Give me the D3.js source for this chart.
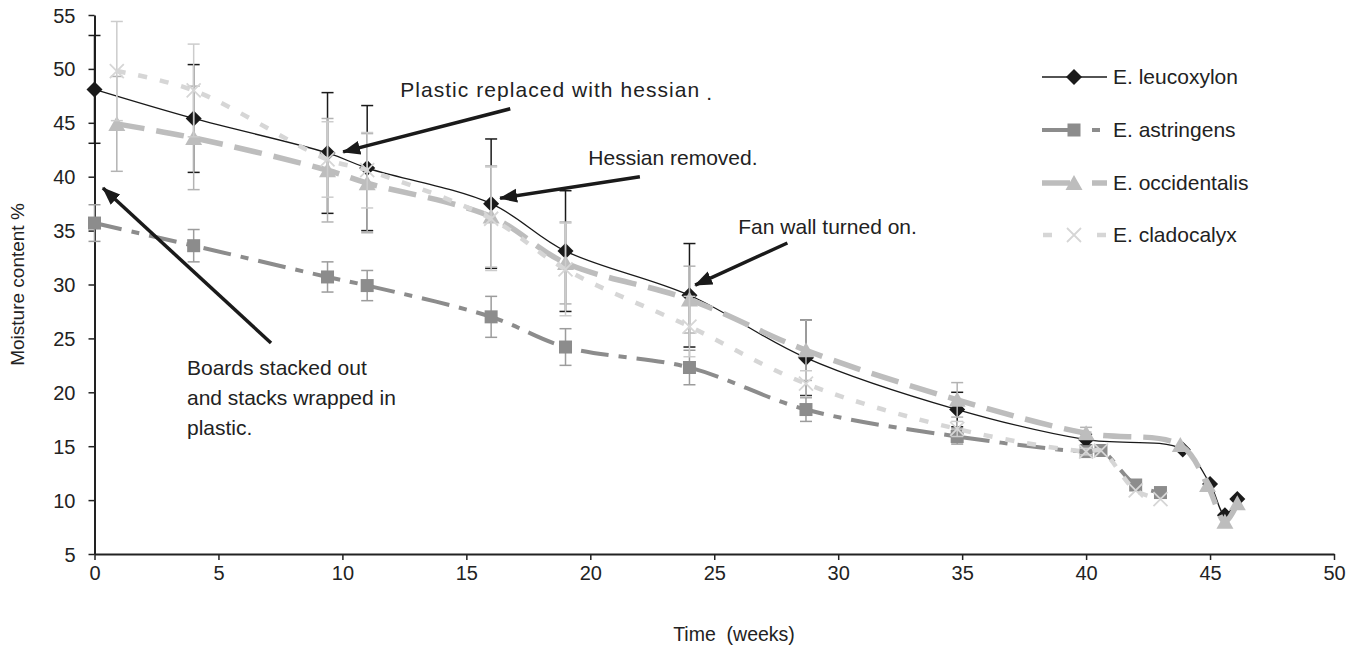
<!DOCTYPE html>
<html>
<head>
<meta charset="utf-8">
<script src="https://cdn.jsdelivr.net/npm/d3@7"></script>
<style>
  body { margin: 0; background: #fff; }
  svg { font-family: "Liberation Sans", Arial, sans-serif; }
</style>
</head>
<body>
<svg width="1361" height="648"></svg>
<script>
// week of measurement, moisture content (%) and error (+/-) per species
const seriesNames = ["E. leucoxylon", "E. astringens", "E. occidentalis", "E. cladocalyx"];

const leucoxylonWeeks = [0, 4, 9.4, 11, 16, 19, 24, 28.7, 34.8, 40, 43.9, 45, 45.6, 46.1];
const leucoxylonMC    = [48.1, 45.4, 42.2, 40.8, 37.5, 33.1, 29.0, 23.2, 18.4, 15.6, 14.7, 11.5, 8.6, 10.1];
const leucoxylonErr   = [5.0, 5.0, 5.6, 5.8, 6.0, 5.6, 4.8, 3.5, 1.6, 0.5, 0, 0, 0, 0];

const astringensWeeks = [0, 4, 9.4, 11, 16, 19, 24, 28.7, 34.8, 40, 40.6, 42, 43];
const astringensMC    = [35.7, 33.6, 30.7, 29.9, 27.0, 24.2, 22.3, 18.4, 15.9, 14.5, 14.6, 11.4, 10.7];
const astringensErr   = [1.7, 1.5, 1.4, 1.4, 1.9, 1.7, 1.6, 1.1, 0.7, 0.4, 0, 0, 0];

const occidentalisWeeks = [0.9, 4, 9.4, 11, 16, 19, 24, 28.7, 34.8, 40, 43.8, 44.9, 45.6, 46.1];
const occidentalisMC    = [44.9, 43.6, 40.6, 39.4, 36.3, 32.0, 28.6, 23.9, 19.3, 16.2, 15.1, 11.4, 8.0, 9.7];
const occidentalisErr   = [4.4, 4.8, 4.8, 4.6, 4.7, 3.8, 3.1, 2.8, 1.6, 0.55, 0, 0, 0, 0];

const cladocalyxWeeks = [0.9, 4, 9.4, 11, 16, 19, 24, 28.7, 34.8, 40, 40.6, 42, 43];
const cladocalyxMC    = [49.8, 48.0, 41.6, 40.6, 36.1, 31.4, 26.1, 20.8, 16.6, 14.5, 14.6, 10.9, 10.1];
const cladocalyxErr   = [4.6, 4.3, 3.5, 3.5, 4.8, 4.3, 2.8, 1.2, 0.7, 0.3, 0, 0, 0];

const xTicks = [0, 5, 10, 15, 20, 25, 30, 35, 40, 45, 50];
const yTicks = [5, 10, 15, 20, 25, 30, 35, 40, 45, 50, 55];

// annotation arrows in data units: text lines, text anchor, arrow start, arrow tip
const notes = [
  {lines: ["Plastic replaced with hessian"], at: [12.33, 47.4], from: [16.77, 46.3], to: [10.03, 42.3], len: 299},
  {lines: ["Hessian removed."], at: [19.92, 41.1], from: [22.0, 40.0], to: [16.36, 38.0]},
  {lines: ["Fan wall turned on."], at: [25.97, 34.7], from: [27.95, 33.85], to: [24.23, 29.95]},
  {lines: ["Boards stacked out", "and stacks wrapped in", "plastic."], at: [3.73, 21.6], from: [7.12, 24.57], to: [0.34, 38.95]}
];

const margin = {top: 15, right: 27, bottom: 94, left: 94.5};
const width = 1361, height = 648;

const svg = d3.select("svg");

const x = d3.scaleLinear().domain([0, 50]).range([margin.left, width - margin.right]);
const y = d3.scaleLinear().domain([5, 55]).range([height - margin.bottom, margin.top]);

const series = [
  {name: seriesNames[0], weeks: leucoxylonWeeks, mc: leucoxylonMC, err: leucoxylonErr,
   color: "#1a1a1a", errColor: "#1a1a1a", width: 1.3, dash: null, marker: "diamond"},
  {name: seriesNames[1], weeks: astringensWeeks, mc: astringensMC, err: astringensErr,
   color: "#8c8c8c", errColor: "#9c9c9c", width: 4, dash: "28,10,8,10", marker: "square"},
  {name: seriesNames[2], weeks: occidentalisWeeks, mc: occidentalisMC, err: occidentalisErr,
   color: "#bdbdbd", errColor: "#b3b3b3", width: 5.5, dash: "28,12", marker: "triangle"},
  {name: seriesNames[3], weeks: cladocalyxWeeks, mc: cladocalyxMC, err: cladocalyxErr,
   color: "#d6d6d6", errColor: "#cccccc", width: 4.5, dash: "9,13", marker: "cross"}
];
series.forEach(s => { s.points = s.weeks.map((w, i) => ({w: w, v: s.mc[i], e: s.err[i]})); });

// axes
const xAxis = d3.axisBottom(x).tickValues(xTicks).tickSize(6).tickSizeOuter(0);
const yAxis = d3.axisLeft(y).tickValues(yTicks).tickSize(6).tickSizeOuter(0);

const gx = svg.append("g").attr("transform", `translate(0,${y(5)})`).call(xAxis);
const gy = svg.append("g").attr("transform", `translate(${x(0)},0)`).call(yAxis);
[gx, gy].forEach(g => {
  g.select(".domain").attr("stroke", "#222").attr("stroke-width", 2);
  g.selectAll(".tick line").attr("stroke", "#222").attr("stroke-width", 1.5);
  g.selectAll(".tick text").attr("fill", "#222").attr("font-size", 20)
    .attr("font-family", "Liberation Sans, Arial, sans-serif");
});
gx.selectAll(".tick text").attr("dy", "0.5em").attr("y", 16);
gy.selectAll(".tick text").attr("x", -19).attr("dy", "0.35em");

svg.append("text")
  .attr("transform", `translate(24,${(y(5) + y(55)) / 2}) rotate(-90)`)
  .attr("text-anchor", "middle")
  .attr("font-size", 19).attr("fill", "#222")
  .text("Moisture content %");

svg.append("text")
  .attr("x", 734).attr("y", 641)
  .attr("text-anchor", "middle")
  .attr("font-size", 19.5).attr("fill", "#222")
  .attr("xml:space", "preserve")
  .text("Time  (weeks)");

// marker shapes
function drawMarker(g, type, color) {
  if (type === "diamond") {
    g.append("path").attr("d", "M0,-8 L8,0 L0,8 L-8,0 Z").attr("fill", color);
  } else if (type === "square") {
    g.append("rect").attr("x", -6.5).attr("y", -6.5).attr("width", 13).attr("height", 13).attr("fill", color);
  } else if (type === "triangle") {
    g.append("path").attr("d", "M0,-8 L8.5,7 L-8.5,7 Z").attr("fill", color);
  } else {
    g.append("path").attr("d", "M-7,-7 L7,7 M-7,7 L7,-7").attr("stroke", color).attr("stroke-width", 1.8);
  }
}

const line = d3.line().x(d => x(d.w)).y(d => y(d.v)).curve(d3.curveCatmullRom.alpha(0.5));

series.forEach(s => {
  const g = svg.append("g");
  // error bars
  const eb = g.selectAll("g.eb").data(s.points.filter(d => d.e > 0)).join("g");
  eb.append("line")
    .attr("x1", d => x(d.w)).attr("x2", d => x(d.w))
    .attr("y1", d => y(d.v + d.e)).attr("y2", d => y(d.v - d.e))
    .attr("stroke", s.errColor).attr("stroke-width", 1.5);
  [1, -1].forEach(sign => {
    eb.append("line")
      .attr("x1", d => x(d.w) - 6).attr("x2", d => x(d.w) + 6)
      .attr("y1", d => y(d.v + sign * d.e)).attr("y2", d => y(d.v + sign * d.e))
      .attr("stroke", s.errColor).attr("stroke-width", 1.5);
  });
  g.append("path").datum(s.points).attr("d", line)
    .attr("fill", "none").attr("stroke", s.color).attr("stroke-width", s.width)
    .attr("stroke-dasharray", s.dash);
  g.selectAll("g.m").data(s.points).join("g")
    .attr("transform", d => `translate(${x(d.w)},${y(d.v)})`)
    .each(function () { drawMarker(d3.select(this), s.marker, s.color); });
});

// legend
const legend = svg.append("g");
series.forEach((s, i) => {
  const ly = [77, 130, 183, 235][i];
  const lg = legend.append("g").attr("transform", `translate(1042,${ly})`);
  if (s.dash === null) {
    lg.append("line").attr("x1", 0).attr("x2", 65).attr("stroke", s.color).attr("stroke-width", s.width);
  } else if (s.marker === "square") {
    lg.append("line").attr("x1", 0).attr("x2", 28).attr("stroke", s.color).attr("stroke-width", s.width);
    lg.append("line").attr("x1", 50).attr("x2", 58).attr("stroke", s.color).attr("stroke-width", s.width);
  } else if (s.marker === "triangle") {
    lg.append("line").attr("x1", 0).attr("x2", 28).attr("stroke", s.color).attr("stroke-width", s.width);
    lg.append("line").attr("x1", 50).attr("x2", 65).attr("stroke", s.color).attr("stroke-width", s.width);
  } else {
    lg.append("line").attr("x1", 1).attr("x2", 10).attr("stroke", s.color).attr("stroke-width", s.width);
    lg.append("line").attr("x1", 55).attr("x2", 64).attr("stroke", s.color).attr("stroke-width", s.width);
  }
  const mg = lg.append("g").attr("transform", "translate(32,0)");
  drawMarker(mg, s.marker, s.color);
  lg.append("text").attr("x", 71).attr("dy", "0.35em").attr("font-size", 21).attr("fill", "#222").text(s.name);
});

// annotations
svg.append("defs").append("marker")
  .attr("id", "head").attr("markerUnits", "userSpaceOnUse")
  .attr("markerWidth", 20).attr("markerHeight", 16)
  .attr("refX", 17).attr("refY", 7).attr("orient", "auto")
  .append("path").attr("d", "M0,0 L18,7 L0,14 Z").attr("fill", "#1a1a1a");

notes.forEach(n => {
  const t = svg.append("text").attr("font-size", 21).attr("fill", "#222");
  n.lines.forEach((l, i) => {
    const ts = t.append("tspan").attr("x", x(n.at[0])).attr("y", y(n.at[1]) + i * 30).text(l);
    if (n.len) ts.attr("textLength", n.len).attr("lengthAdjust", "spacing");
  });
  const from = [x(n.from[0]), y(n.from[1])];
  const to = [x(n.to[0]), y(n.to[1])];
  svg.append("line")
    .attr("x1", from[0]).attr("y1", from[1]).attr("x2", to[0]).attr("y2", to[1])
    .attr("stroke", "#1a1a1a").attr("stroke-width", 3.5).attr("marker-end", "url(#head)");
});
svg.append("text").attr("x", x(24.68)).attr("y", y(47.1)).attr("font-size", 21).attr("fill", "#222").text(".");
</script>
</body>
</html>
